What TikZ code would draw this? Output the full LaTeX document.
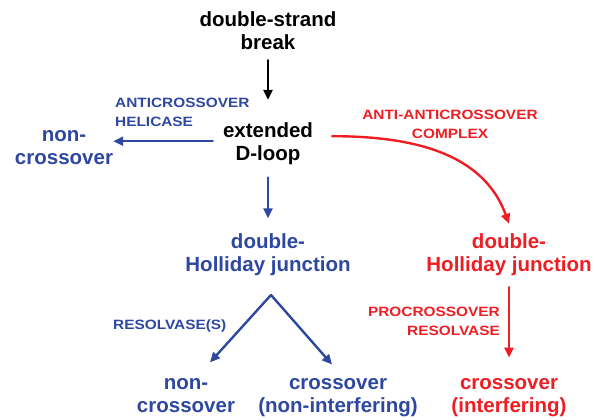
\documentclass[tikz,border=0pt]{standalone}
\usepackage{fontspec}
\setmainfont{Liberation Sans}
\newfontfamily\lblfont[FakeStretch=1.14]{Liberation Sans}
\usetikzlibrary{arrows.meta}
\definecolor{pathblue}{RGB}{46,72,160}
\definecolor{pathred}{RGB}{237,30,36}
\begin{document}
\begin{tikzpicture}[line cap=round,line join=round,>={Triangle[length=10pt,width=9pt]},x=1pt,y=1pt,
	big/.style={inner sep=0pt,align=center,font=\bfseries\fontsize{20.5}{23}\selectfont},
	lbl/.style={inner sep=0pt,font=\lblfont\bfseries\fontsize{13.5}{18.5}\selectfont},
	arr/.style={->,line width=2.4pt}]
				\useasboundingbox (0,0) rectangle (597,-420);
				% main path
				\node[big] (dsb) at (268,-31) {double-strand\\break};
				\node[big] (dloop) at (268,-143.2) {extended\\D-loop};
				\node[big,pathblue] (ncl) at (64,-147.2) {non-\\crossover};
				\node[big,pathblue] (bhj) at (268,-254.7) {double-\\Holliday junction};
				\node[big,pathred] (rhj) at (509,-255) {double-\\Holliday junction};
				\node[big,pathblue] (bnc) at (186,-395.7) {non-\\crossover};
				\node[big,pathblue] (bco) at (338,-397.9) {crossover\\(non-interfering)};
				\node[big,pathred] (rco) at (509,-397.9) {crossover\\(interfering)};
				% enzymes
				\node[lbl,pathblue,align=left,anchor=west] (helic) at (115,-112.6) {ANTICROSSOVER\\HELICASE};
				\node[lbl,pathred,align=center] (anti) at (450,-124.2) {ANTI-ANTICROSSOVER\\COMPLEX};
				\node[lbl,pathred,align=right,anchor=east] (procr) at (500,-321.2) {PROCROSSOVER\\RESOLVASE};
				\node[lbl,pathblue,anchor=west] (resolv) at (113,-326.5) {RESOLVASE(S)};
				\coordinate (split) at ([xshift=3pt,yshift=-19pt]bhj.south);
				\draw [arr] (dsb.south) ++(0,-10) -- ([yshift=22pt]dloop.north);
				\draw [arr,pathblue] ([xshift=-10pt,yshift=2pt]dloop.west) -- ([yshift=2pt]dloop.west -| ncl.east);
				\draw [arr,pathblue] ([yshift=-13pt]dloop.south) -- ([yshift=15pt]bhj.north);
				\draw [arr,pathred] ([xshift=19pt,yshift=7pt]dloop.east) to[out=0,in=110] ([yshift=10pt]rhj.north);
				\draw [arr,pathblue] (split) -- ([xshift=24pt,yshift=16pt]bnc.north);
				\draw [arr,pathblue] (split) -- ([xshift=-6pt,yshift=14pt]bco.north);
				\draw [arr,pathred] ([yshift=-11pt]rhj.south) -- ([yshift=21pt]rco.north);
			\end{tikzpicture}
\end{document}
